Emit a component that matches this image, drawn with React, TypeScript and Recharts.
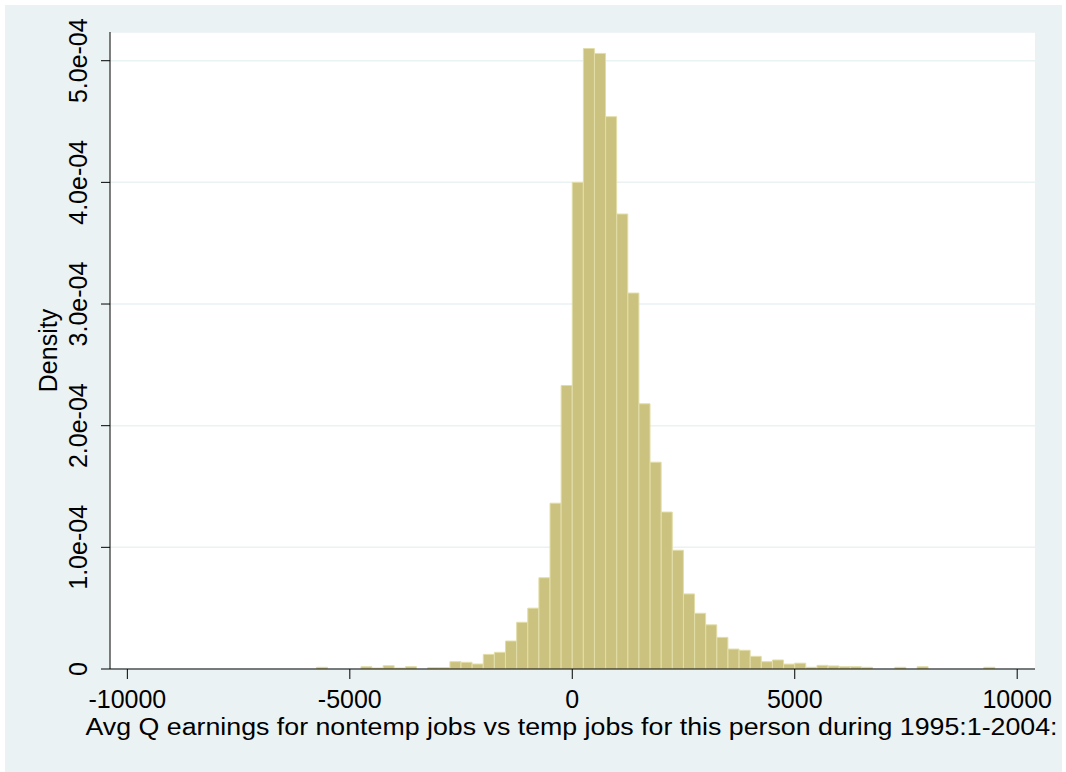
/**
 * Histogram of avg quarterly earnings difference (nontemp vs temp jobs)
 */

import { Bar, BarChart, CartesianGrid, XAxis, YAxis } from "recharts";

// bin midpoints (width 250)
const binMid = [
	-5625, -5375, -5125, -4875, -4625, -4375, -4125, -3875, -3625, -3375, -3125,
	-2875, -2625, -2375, -2125, -1875, -1625, -1375, -1125, -875, -625, -375,
	-125, 125, 375, 625, 875, 1125, 1375, 1625, 1875, 2125, 2375, 2625, 2875,
	3125, 3375, 3625, 3875, 4125, 4375, 4625, 4875, 5125, 5375, 5625, 5875, 6125,
	6375, 6625, 6875, 7125, 7375, 7625, 7875, 8125, 8375, 8625, 8875, 9125, 9375,
];

const density = [
	1.4e-6, 0, 0, 0, 1.9e-6, 0.8e-6, 2.7e-6, 0.8e-6, 1.9e-6, 0, 1.1e-6,
	1.1e-6, 6.0e-6, 5.5e-6, 4.1e-6, 1.2e-5, 1.37e-5, 2.3e-5, 3.84e-5, 5.0e-5,
	7.5e-5, 1.363e-4, 2.33e-4, 4.0e-4, 5.1e-4, 5.06e-4, 4.54e-4, 3.74e-4,
	3.09e-4, 2.18e-4, 1.7e-4, 1.29e-4, 9.76e-5, 6.17e-5, 4.58e-5, 3.63e-5,
	2.6e-5, 1.64e-5, 1.54e-5, 1.04e-5, 6.0e-6, 7.4e-6, 4.0e-6, 4.8e-6, 1.4e-6,
	3.0e-6, 2.5e-6, 1.9e-6, 1.9e-6, 1.4e-6, 0, 0, 1.4e-6, 0, 1.9e-6, 0, 0, 0,
	0, 0, 1.4e-6,
];

const xTicks = [-10000, -5000, 0, 5000, 10000];
const yTicks = [0, 0.0001, 0.0002, 0.0003, 0.0004, 0.0005];

const xTitle =
	"Avg Q earnings for nontemp jobs vs temp jobs for this person during 1995:1-2004:";
const yTitle = "Density";

const FONT = "'Liberation Sans', Arial, sans-serif";

const data = binMid.map((x, i) => ({ x, density: density[i] }));

function fmtY(v: number) {
	if (v === 0) return "0";
	return `${(v * 1e4).toFixed(1)}e-04`;
}

function XTick({ x, y, payload }: any) {
	return (
		<text
			x={x}
			y={y + 29}
			textAnchor="middle"
			fontSize={25}
			fontFamily={FONT}
			fill="#000"
		>
			{payload.value}
		</text>
	);
}

function YTick({ x, y, payload }: any) {
	const tx = x - 14;
	return (
		<text
			x={tx}
			y={y}
			transform={`rotate(-90, ${tx}, ${y})`}
			textAnchor="middle"
			fontSize={25}
			fontFamily={FONT}
			fill="#000"
		>
			{fmtY(payload.value)}
		</text>
	);
}

// stata draws the title a bit wider than arial, so stretch it
function XTitle({ viewBox }: any) {
	return (
		<text
			x={viewBox.x + viewBox.width / 2 - 1}
			y={viewBox.y + 66}
			textAnchor="middle"
			fontSize={23}
			fontFamily={FONT}
			fill="#000"
			textLength={972}
			lengthAdjust="spacingAndGlyphs"
		>
			{xTitle}
		</text>
	);
}

function YTitle({ viewBox }: any) {
	const tx = 57;
	const ty = viewBox.y + viewBox.height / 2;
	return (
		<text
			x={tx}
			y={ty}
			transform={`rotate(-90, ${tx}, ${ty})`}
			textAnchor="middle"
			fontSize={25}
			fontFamily={FONT}
			fill="#000"
		>
			{yTitle}
		</text>
	);
}

export default function App() {
	return (
		<div
			style={{
				position: "absolute",
				left: 0,
				top: 0,
				width: 1066,
				height: 772,
				background: "#fff",
			}}
		>
			<div
				style={{
					position: "absolute",
					left: 5,
					top: 5,
					width: 1057,
					height: 767,
					background: "#EAF2F3",
				}}
			/>
			<div style={{ position: "absolute", left: 0, top: 0 }}>
				<BarChart
					width={1066}
					height={772}
					data={data}
					margin={{ top: 32, right: 31, bottom: 23, left: 10 }}
					barCategoryGap={0}
					barGap={0}
				>
					<CartesianGrid
						vertical={false}
						fill="#fff"
						fillOpacity={1}
						stroke="#EAF2F3"
						strokeWidth={1.5}
					/>
					<XAxis
						dataKey="x"
						type="number"
						domain={[-10390, 10400]}
						ticks={xTicks}
						interval={0}
						height={80}
						tickSize={10}
						tickMargin={0}
						stroke="#000"
						tick={<XTick />}
						label={<XTitle />}
						allowDataOverflow
					/>
					<YAxis
						type="number"
						domain={[0, 0.0005236]}
						ticks={yTicks}
						interval={0}
						width={100}
						tickSize={9}
						tickMargin={0}
						stroke="#000"
						tick={<YTick />}
						label={<YTitle />}
						allowDataOverflow
					/>
					<Bar
						dataKey="density"
						fill="#CAC27E"
						stroke="#E2DDA8"
						strokeWidth={1}
						isAnimationActive={false}
					/>
				</BarChart>
			</div>
		</div>
	);
}
